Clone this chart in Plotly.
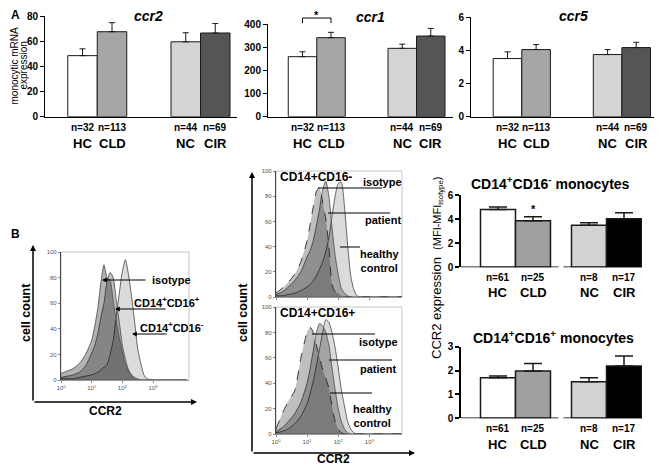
import plotly.graph_objects as go

# The page body adds an 8 px margin, so the figure is shifted by OFF px;
# positions below are given in screenshot pixels and converted.
OFF = 8
W, H = 662 - OFF, 467 - OFF
FONT = "Arial, 'Liberation Sans', sans-serif"


def fx(p):
    return (p - OFF) / W


def fy(p):
    return 1 - (p - OFF) / H


# ---------------- data ----------------
groups = ["HC", "CLD", "NC", "CIR"]
n_A = ["n=32", "n=113", "n=44", "n=69"]
ccr2_mean = [48.5, 67.5, 59.5, 66.5]
ccr2_err = [5.4, 7.2, 7.2, 7.5]
ccr1_mean = [259, 341, 295, 348]
ccr1_err = [21, 23, 18, 33]
ccr5_mean = [3.5, 4.04, 3.74, 4.16]
ccr5_err = [0.4, 0.3, 0.3, 0.32]

n_B = ["n=61", "n=25", "n=8", "n=17"]
cd16neg_mean = [4.8, 3.87, 3.5, 4.03]
cd16neg_err = [0.2, 0.33, 0.2, 0.5]
cd16pos_mean = [1.70, 1.98, 1.53, 2.19]
cd16pos_err = [0.07, 0.32, 0.17, 0.42]

# flow cytometry histograms (log10 CCR2 intensity, % of max)
hist_decades = [0, 0.2, 0.4, 0.6, 0.8, 1.0, 1.1, 1.2, 1.3, 1.4, 1.5, 1.6, 1.7,
                1.8, 1.9, 2.0, 2.1, 2.2, 2.3, 2.4, 2.5, 2.6, 2.7, 2.8, 3.0, 4.1]
left_isotype = [5, 7, 9, 13, 20, 31, 42, 56, 76, 90, 80, 78, 62, 46, 33, 22, 12, 7, 3, 1, 0, 0, 0, 0, 0, 0]
left_cd16pos = [2, 3, 4, 6, 11, 21, 27, 36, 49, 60, 77, 84, 80, 62, 45, 27, 16, 8, 4, 2, 1, 0, 0, 0, 0, 0]
left_cd16neg = [1, 1, 1, 2, 3, 4, 5, 6, 8, 10, 12, 20, 31, 50, 68, 85, 94, 82, 65, 45, 24, 13, 4, 1, 0, 0]

top_isotype = [3, 7, 12, 18, 28, 45, 58, 72, 84, 87, 75, 62, 40, 10, 4, 3, 1, 0, 0, 0, 0, 0, 0, 0, 0, 0]
top_patient = [2, 4, 8, 13, 20, 32, 37, 45, 57, 70, 85, 92, 80, 55, 33, 18, 7, 3, 1, 0, 0, 0, 0, 0, 0, 0]
top_healthy = [1, 1, 2, 3, 5, 8, 10, 13, 17, 22, 28, 36, 47, 64, 80, 90, 91, 72, 42, 17, 6, 1, 0, 0, 0, 0]

bot_isotype = [4, 16, 26, 34, 60, 80, 84, 80, 70, 60, 51, 44, 36, 22, 10, 4, 1, 0, 0, 0, 0, 0, 0, 0, 0, 0]
bot_patient = [2, 5, 10, 16, 25, 40, 52, 66, 80, 87, 85, 80, 70, 52, 35, 20, 10, 4, 1, 0, 0, 0, 0, 0, 0, 0]
bot_healthy = [1, 2, 4, 8, 14, 24, 32, 42, 54, 67, 80, 90, 88, 80, 68, 52, 35, 22, 10, 4, 1, 0, 0, 0, 0, 0]

# ---------------- styles ----------------
colors_A = ["#ffffff", "#a6a6a6", "#d4d4d4", "#555555"]
colors_B = ["#ffffff", "#a0a0a0", "#d3d3d3", "#000000"]


def positions(gap):
    return [0, 1, gap, gap + 1]


pos_A = positions(3.5)
pos_B = positions(2.6)

fig = go.Figure()
layout = dict(width=W, height=H, autosize=False,
              margin=dict(l=0, r=0, t=0, b=0, pad=0, autoexpand=False),
              paper_bgcolor="white", plot_bgcolor="rgba(0,0,0,0)",
              showlegend=False, font=dict(family=FONT, color="black"))
annotations = []
shapes = []


def ax_name(k, a):
    return f"{a}axis" if k == 1 else f"{a}axis{k}"


def ref(k, a):
    return a if k == 1 else f"{a}{k}"


def text(x, y, s, size=11, bold=True, angle=0, xanchor="center", color="black"):
    annotations.append(dict(x=fx(x), y=fy(y), xref="paper", yref="paper", text=s,
                            showarrow=False, textangle=angle, xanchor=xanchor,
                            yanchor="middle",
                            font=dict(family=FONT, size=size, color=color,
                                      weight="bold" if bold else "normal")))


def arrow(x0, y0, x1, y1, width=1.2, size=1.0):
    annotations.append(dict(x=fx(x1), y=fy(y1), xref="paper", yref="paper",
                            ax=x0 - x1, ay=y0 - y1, axref="pixel", ayref="pixel",
                            text="", showarrow=True, arrowhead=2, arrowsize=size,
                            arrowwidth=width, arrowcolor="black", standoff=0))


def line(x0, y0, x1, y1, w=1.0, color="black"):
    shapes.append(dict(type="line", xref="paper", yref="paper", x0=fx(x0), y0=fy(y0),
                       x1=fx(x1), y1=fy(y1), line=dict(color=color, width=w)))


def bar_panel(k, means, errs, pos, colors, xdom, ydom, c0, scale, ymax, dtick,
              lw, capw, n_labels, n_y, g_y, broken=False):
    fig.add_trace(go.Bar(x=pos, y=means, width=1, marker=dict(color=colors, line=dict(color="#1a1a1a", width=lw)),
                         error_y=dict(type="data", array=errs, arrayminus=[0] * len(errs), symmetric=False,
                                      color="#1a1a1a", thickness=lw, width=capw),
                         xaxis=ref(k, "x"), yaxis=ref(k, "y"), cliponaxis=False))
    xr = [(xdom[0] - c0) / scale, (xdom[1] - c0) / scale]
    layout[ax_name(k, "x")] = dict(domain=[fx(xdom[0]), fx(xdom[1])], range=xr, anchor=ref(k, "y"),
                                   showline=not broken, linecolor="black", linewidth=lw, automargin=False,
                                   showticklabels=False, ticks="", showgrid=False, zeroline=False)
    layout[ax_name(k, "y")] = dict(domain=[fy(ydom[1]), fy(ydom[0])], range=[0, ymax], anchor=ref(k, "x"),
                                   dtick=dtick, tick0=0, ticks="outside", ticklen=4, tickwidth=lw,
                                   tickcolor="black", showline=True, linecolor="black", linewidth=lw,
                                   showgrid=False, zeroline=False, automargin=False,
                                   tickfont=dict(family=FONT, size=10, color="black", weight="bold"))
    if broken:
        mid = (pos[1] + pos[2]) / 2
        for a, b in [(xr[0], mid - 0.07), (mid + 0.07, xr[1])]:
            shapes.append(dict(type="line", xref=ref(k, "x"), yref=ref(k, "y"), x0=a, x1=b, y0=0, y1=0,
                               line=dict(color="black", width=lw)))
    for p, nl, g in zip(pos, n_labels, groups):
        annotations.append(dict(x=p, y=fy(n_y), xref=ref(k, "x"), yref="paper", text=nl, showarrow=False,
                                yanchor="middle",
                                font=dict(family=FONT, size=10, weight="bold", color="black")))
        annotations.append(dict(x=p, y=fy(g_y), xref=ref(k, "x"), yref="paper", text=g, showarrow=False,
                                yanchor="middle",
                                font=dict(family=FONT, size=13, weight="bold", color="black")))


# ---------------- Panel A ----------------
bar_panel(1, ccr2_mean, ccr2_err, pos_A, colors_A, (45, 237), (16, 116.7), 82.5, 29.5, 80, 20,
          1, 3, n_A, 127, 143)
bar_panel(2, ccr1_mean, ccr1_err, pos_A, colors_A, (268, 453), (24, 116.7), 302.5, 28.5, 400, 100,
          1, 3, n_A, 127, 143)
bar_panel(3, ccr5_mean, ccr5_err, pos_A, colors_A, (471, 660), (17, 116.7), 507.5, 28.6, 6, 2,
          1, 3, n_A, 127, 143)

text(148, 16, "<i>ccr2</i>", size=14)
text(370, 17, "<i>ccr1</i>", size=14)
text(573, 16, "<i>ccr5</i>", size=14)
text(9, 15, "A", size=12, xanchor="left")
text(13.5, 66, "monocytic mRNA", size=10, bold=False, angle=-90)
text(22.5, 66, "expression", size=10, bold=False, angle=-90)

# significance bracket ccr1
shapes.append(dict(type="path", xref="x2", yref="paper",
                   path=f"M {pos_A[0]},{fy(23)} L {pos_A[0]},{fy(18)} L {pos_A[1]},{fy(18)} L {pos_A[1]},{fy(23)}",
                   line=dict(color="black", width=1)))
annotations.append(dict(x=(pos_A[0] + pos_A[1]) / 2, y=fy(15), xref="x2", yref="paper", text="*",
                        showarrow=False, yanchor="middle",
                        font=dict(family=FONT, size=11, weight="bold", color="black")))

# ---------------- Panel B: flow histograms ----------------
hist_x = [10 ** d for d in hist_decades]


def hist_panel(k, curves, xdom, ydom, xmax, show_xlabels):
    for vals, alpha, dash, lcol in curves:
        fig.add_trace(go.Scatter(x=hist_x, y=vals, mode="lines",
                                 line=dict(color=lcol, width=0.9, shape="spline", smoothing=0.6, dash=dash),
                                 fill="tozeroy", fillcolor=f"rgba(0,0,0,{alpha})",
                                 xaxis=ref(k, "x"), yaxis=ref(k, "y"), hoverinfo="skip"))
    layout[ax_name(k, "x")] = dict(domain=[fx(xdom[0]), fx(xdom[1])], type="log", range=[0, xmax],
                                   anchor=ref(k, "y"), tickvals=[1, 10, 100, 1000], automargin=False,
                                   ticktext=["10<sup>0</sup>", "10<sup>1</sup>", "10<sup>2</sup>", "10<sup>3</sup>"],
                                   showticklabels=show_xlabels, ticks="outside", ticklen=2, tickcolor="#888",
                                   tickfont=dict(family=FONT, size=6, color="#555"),
                                   showline=True, linecolor="#999", linewidth=1,
                                   showgrid=False, zeroline=False)
    layout[ax_name(k, "y")] = dict(domain=[fy(ydom[1]), fy(ydom[0])], range=[0, 100], anchor=ref(k, "x"),
                                   dtick=20, ticks="outside", ticklen=2, tickcolor="#888", automargin=False,
                                   tickfont=dict(family=FONT, size=6, color="#555"),
                                   showline=True, linecolor="#444", linewidth=1.2,
                                   showgrid=False, zeroline=False)
    shapes.append(dict(type="rect", xref=f"{ref(k, 'x')} domain", yref=f"{ref(k, 'y')} domain",
                       x0=0, x1=1, y0=0, y1=1, line=dict(color="#c4c4c4", width=1), layer="below"))


hist_panel(4, [(left_cd16neg, 0.14, "solid", "#555"), (left_cd16pos, 0.25, "solid", "#555"),
               (left_isotype, 0.3, "solid", "#555")], (61, 189), (252, 380), 4.17, True)
hist_panel(5, [(top_healthy, 0.14, "solid", "#555"), (top_patient, 0.25, "solid", "#555"),
               (top_isotype, 0.25, "dash", "#222")], (276, 402), (171, 297), 4.05, False)
hist_panel(6, [(bot_healthy, 0.14, "solid", "#555"), (bot_patient, 0.25, "solid", "#555"),
               (bot_isotype, 0.25, "dash", "#222")], (276, 402), (307, 434), 4.05, True)

text(9, 234, "B", size=12, xanchor="left")

# left histogram decorations
arrow(33, 402, 33, 245, width=1.5, size=0.8)
arrow(33, 402, 197, 402, width=1.5, size=0.8)
text(26, 313, "cell count", size=12.5, angle=-90)
text(105, 411, "CCR2", size=12)
text(172, 280, "isotype", size=11)
arrow(147, 280, 102, 280, width=1.2, size=0.8)
text(167, 302, "CD14<sup>+</sup>CD16<sup>+</sup>", size=11)
arrow(167, 309, 115, 309, width=1.2, size=0.8)
text(172, 327, "CD14<sup>+</sup>CD16<sup>-</sup>", size=11)
arrow(168, 334, 132, 334, width=1.2, size=0.8)

# middle histograms decorations
arrow(252, 453, 252, 172, width=1.5, size=0.8)
arrow(252, 453, 415, 453, width=1.5, size=0.8)
text(243, 312, "cell count", size=12.5, angle=-90)
text(333, 459, "CCR2", size=12)

text(278, 177, "CD14+CD16-", size=12, xanchor="left")
text(382, 182, "isotype", size=11)
line(318, 188, 382, 188)
text(383, 220, "patient", size=11)
line(328, 213, 390, 213)
text(379, 261, "healthy<br>control", size=11)
line(340, 247, 360, 247)

text(278, 313, "CD14+CD16+", size=12, xanchor="left")
text(378, 342, "isotype", size=11)
line(312, 334, 375, 334)
text(378, 369, "patient", size=11)
line(329, 360, 392, 360)
text(372, 416, "healthy<br>control", size=11)
line(330, 393, 372, 393)

# ---------------- Panel B: bar charts ----------------
bar_panel(7, cd16neg_mean, cd16neg_err, pos_B, colors_B, (461, 642), (195, 267.3), 498, 35, 6, 2,
          1.5, 9, n_B, 277, 292, broken=True)
bar_panel(8, cd16pos_mean, cd16pos_err, pos_B, colors_B, (461, 642), (346.7, 418.3), 498, 35, 3, 1,
          1.5, 9, n_B, 428, 444, broken=True)

text(550, 183, "CD14<sup>+</sup>CD16<sup>-</sup> monocytes", size=14)
text(553, 337, "CD14<sup>+</sup>CD16<sup>+</sup> monocytes", size=14)
text(437, 268, "CCR2 expression  <span style='font-size:11px'>(MFI-MFI<sub>isotype</sub>)</span>",
     size=13, bold=False, angle=-90)
annotations.append(dict(x=pos_B[1], y=4.85, xref="x7", yref="y7", text="*", showarrow=False,
                        font=dict(family=FONT, size=11, weight="bold", color="black")))

layout["annotations"] = annotations
layout["shapes"] = shapes
fig.update_layout(**layout)
fig.write_html("out.html")
